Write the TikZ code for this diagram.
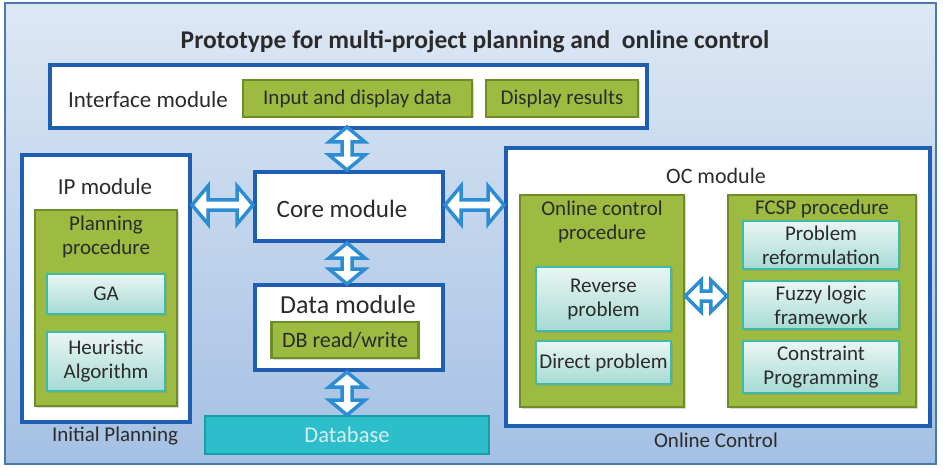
\documentclass[tikz,border=0pt]{standalone}
\usepackage{fontspec}
\setmainfont{Carlito}
\usetikzlibrary{calc,shadows}
\definecolor{frameblue}{HTML}{4A78B0}
\definecolor{bgtop}{HTML}{DDE8F5}
\definecolor{bgbot}{HTML}{A4C0E3}
\definecolor{modblue}{HTML}{1E5FB4}
\definecolor{greenfill}{HTML}{9CBB40}
\definecolor{greenline}{HTML}{6F8C2B}
\definecolor{tealtop}{HTML}{EAF6F4}
\definecolor{tealbot}{HTML}{A6DAD4}
\definecolor{tealline}{HTML}{3DBBA9}
\definecolor{dbfill}{HTML}{2CBFCB}
\definecolor{dbline}{HTML}{1A9EA6}
\definecolor{dbtext}{HTML}{D6EEF2}
\definecolor{arrblue}{HTML}{2D8DD4}
\definecolor{txt}{HTML}{2B2B2B}
\newcommand\varr[2]{\draw[dblarrow] let \p1=(#1), \p2=(#2) in
  (\x1,\y1) -- (\x1+18pt,\y1-15pt) -- (\x1+5pt,\y1-15pt) -- (\x1+5pt,\y2+15pt) -- (\x1+18pt,\y2+15pt)
  -- (\x1,\y2) -- (\x1-18pt,\y2+15pt) -- (\x1-5pt,\y2+15pt) -- (\x1-5pt,\y1-15pt) -- (\x1-18pt,\y1-15pt) -- cycle;}
\newcommand\harr[3][19pt]{\draw[dblarrow] let \p1=(#2), \p2=(#3) in
  (\x1,\y1) -- (\x1+16pt,\y1+#1) -- (\x1+16pt,\y1+5pt) -- (\x2-16pt,\y1+5pt) -- (\x2-16pt,\y1+#1)
  -- (\x2,\y1) -- (\x2-16pt,\y1-#1) -- (\x2-16pt,\y1-5pt) -- (\x1+16pt,\y1-5pt) -- (\x1+16pt,\y1-#1) -- cycle;}
\begin{document}
\begin{tikzpicture}[x=1pt,y=-1pt,
  every node/.style={text=txt},
  modbox/.style={draw=modblue, line width=4pt, fill=white, inner sep=0pt},
  greenbox/.style={draw=greenline, line width=2.5pt, fill=greenfill, inner sep=0pt, align=center,
     font=\fontsize{21}{24}\selectfont, drop shadow={opacity=0.3, shadow xshift=1.5pt, shadow yshift=-1.5pt}},
  tealbox/.style={draw=tealline, line width=2pt, top color=tealtop, bottom color=tealbot, inner sep=0pt,
     align=center, font=\fontsize{21}{24}\selectfont, drop shadow={opacity=0.3, shadow xshift=1.5pt, shadow yshift=-1.5pt}},
  modlabel/.style={font=\fontsize{23}{27}\selectfont, align=center},
  sublabel/.style={font=\fontsize{21}{24}\selectfont, align=center},
  dblarrow/.style={draw=arrblue, fill=white, line width=3.5pt, line join=miter}]
\useasboundingbox (0,0) rectangle (943,468);
\fill[white] (0,0) rectangle (943,468);
\node[draw=frameblue, line width=2pt, top color=bgtop, bottom color=bgbot, minimum width=931pt, minimum height=461pt, inner sep=0pt] (frame) at (470.5,233.5) {};
\node[font=\bfseries\fontsize{25.5}{30}\selectfont] (title) at (475,42) {Prototype for multi-project planning and\ \ online control};

% Interface
\node[modbox, minimum width=597pt, minimum height=63pt] (iface) at (348.5,96.5) {};
\node[modlabel] (ifacel) at (148,100) {Interface module};
\node[greenbox, minimum width=229pt, minimum height=37pt] (input) at (357.5,98.5) {Input and display data};
\node[greenbox, minimum width=152pt, minimum height=37pt] (dispres) at (562,98.5) {Display results};

% IP module
\node[modbox, minimum width=168pt, minimum height=267pt] (ip) at (106,288.5) {};
\node[modlabel] (ipl) at (105,187) {IP module};
\node[greenbox, minimum width=142pt, minimum height=196pt] (plan) at (106,308) {};
\node[sublabel] (planl) at (106,237) {Planning\\procedure};
\node[tealbox, minimum width=118pt, minimum height=40pt] (ga) at (106,294) {GA};
\node[tealbox, minimum width=118pt, minimum height=59pt] (heur) at (106,361.5) {Heuristic\\Algorithm};
\node[modlabel, font=\fontsize{21}{25}\selectfont] (initp) at (115,436) {Initial Planning};

% Core
\node[modbox, minimum width=188pt, minimum height=69pt] (core) at (349,206.5) {};
\node[modlabel, font=\fontsize{25}{29}\selectfont] (corel) at (342,209) {Core module};

% Data
\node[modbox, minimum width=188pt, minimum height=85pt] (data) at (349,327.5) {};
\node[modlabel, font=\fontsize{26}{30}\selectfont] (datal) at (348,305) {Data module};
\node[greenbox, minimum width=147pt, minimum height=36pt, font=\fontsize{22}{26}\selectfont] (dbrw) at (345,340) {DB read/write};

% Database
\node[draw=dbline, line width=2pt, fill=dbfill, minimum width=284pt, minimum height=38pt, inner sep=0pt,
      text=dbtext, font=\fontsize{22.5}{26}\selectfont] (db) at (347,435) {Database};

% OC module
\node[modbox, minimum width=424pt, minimum height=278pt] (oc) at (718,287) {};
\node[modlabel, font=\fontsize{22}{26}\selectfont] (ocl) at (716,176) {OC module};
\node[greenbox, minimum width=164pt, minimum height=212pt] (ocp) at (602,301) {};
\node[sublabel] (ocpl) at (602,222) {Online control\\procedure};
\node[tealbox, minimum width=135pt, minimum height=64pt] (rev) at (603.5,299) {Reverse\\problem};
\node[tealbox, minimum width=135pt, minimum height=43pt] (dir) at (603.5,362.5) {Direct problem};
\node[greenbox, minimum width=188pt, minimum height=212pt] (fcsp) at (822,301) {};
\node[sublabel] (fcspl) at (822,209) {FCSP procedure};
\node[tealbox, minimum width=156pt, minimum height=48pt] (ref) at (821,245) {Problem\\reformulation};
\node[tealbox, minimum width=156pt, minimum height=48pt] (fuzzy) at (821,305) {Fuzzy logic\\framework};
\node[tealbox, minimum width=156pt, minimum height=52pt] (cp) at (821,367) {Constraint\\Programming};
\node[modlabel, font=\fontsize{21}{25}\selectfont] (onc) at (716,440) {Online Control};

% arrows
\coordinate (a1t) at (347,127); \coordinate (a1b) at (347,170);
\varr{a1t}{a1b}
\coordinate (a2t) at (347,243); \coordinate (a2b) at (347,284);
\varr{a2t}{a2b}
\coordinate (a3t) at (347,372); \coordinate (a3b) at (347,415);
\varr{a3t}{a3b}
\harr{ip.east |- 0,205}{core.west |- 0,205}
\harr{core.east |- 0,205}{oc.west |- 0,205}
\harr[16pt]{ocp.east |- 0,296}{fcsp.west |- 0,296}
\end{tikzpicture}
\end{document}
